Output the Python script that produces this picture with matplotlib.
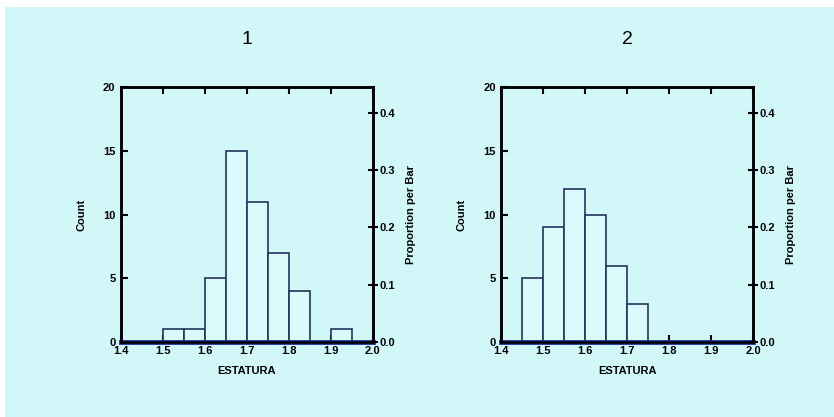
import matplotlib
matplotlib.use("Agg")
import matplotlib.pyplot as plt
from matplotlib.patches import Rectangle

plt.rcParams["font.family"] = ["Liberation Sans", "DejaVu Sans"]

# histogram data (bin width 0.05)
bin_width = 0.05
left_edges_1 = [1.50, 1.55, 1.60, 1.65, 1.70, 1.75, 1.80, 1.85, 1.90]
counts_1 = [1, 1, 5, 15, 11, 7, 4, 0, 1]
left_edges_2 = [1.45, 1.50, 1.55, 1.60, 1.65, 1.70]
counts_2 = [5, 9, 12, 10, 6, 3]
titles = ["1", "2"]

x_ticks = [1.4, 1.5, 1.6, 1.7, 1.8, 1.9, 2.0]
count_ticks = [0, 5, 10, 15, 20]
prop_ticks = [0.0, 0.1, 0.2, 0.3, 0.4]

bg = "#d2f7f9"
bar_face = "#d9f9fb"
bar_edge = "#23345c"
base_blue = "#2236a0"

fig = plt.figure(figsize=(8.34, 4.17), dpi=100)
fig.patch.set_facecolor("white")
fig.add_artist(Rectangle((5 / 834, 0), 1, 1 - 7 / 417, transform=fig.transFigure,
                         facecolor=bg, edgecolor="none", zorder=-10))


def draw_panel(rect, edges, counts, title):
    ax = fig.add_axes(rect)
    ax.set_facecolor(bg)
    n = sum(counts)
    ax.bar(edges, counts, width=bin_width, align="edge", facecolor=bar_face,
           edgecolor=bar_edge, linewidth=1.2, zorder=2)
    ax.axhline(0, color=base_blue, linewidth=3.5, zorder=3, clip_on=False)
    ax.set_xlim(1.4, 2.0)
    ax.set_ylim(0, 20)
    ax.set_xticks(x_ticks)
    ax.set_xticklabels([f"{t:.1f}" for t in x_ticks], fontweight="bold")
    ax.set_yticks(count_ticks)
    ax.set_yticklabels([str(t) for t in count_ticks], fontweight="bold")
    ax.tick_params(direction="in", length=5, width=1.5, labelsize=8,
                   top=True, right=False)
    ax.tick_params(axis="x", pad=3)
    ax.tick_params(axis="y", pad=4)
    for s in ax.spines.values():
        s.set_linewidth(1.8)
        s.set_color("black")
    ax.set_xlabel("ESTATURA", fontsize=8, fontweight="bold", labelpad=7)
    ax.set_ylabel("Count", fontsize=8, fontweight="bold", labelpad=12)
    ax.set_title(title, fontsize=14, pad=31)

    ax2 = ax.twinx()
    ax2.set_ylim(0, 20 / n)
    ax2.set_yticks(prop_ticks)
    ax2.set_yticklabels([f"{t:.1f}" for t in prop_ticks], fontweight="bold")
    ax2.tick_params(direction="inout", length=7, width=1.5, labelsize=8, pad=1)
    for s in ax2.spines.values():
        s.set_linewidth(1.8)
    ax2.set_ylabel("Proportion per Bar", fontsize=8, fontweight="bold",
                   rotation=90, labelpad=8)
    return ax


draw_panel([0.145, 0.180, 0.302, 0.611], left_edges_1, counts_1, titles[0])
draw_panel([0.601, 0.180, 0.302, 0.611], left_edges_2, counts_2, titles[1])

fig.savefig("out.png", dpi=100, facecolor=fig.get_facecolor())
